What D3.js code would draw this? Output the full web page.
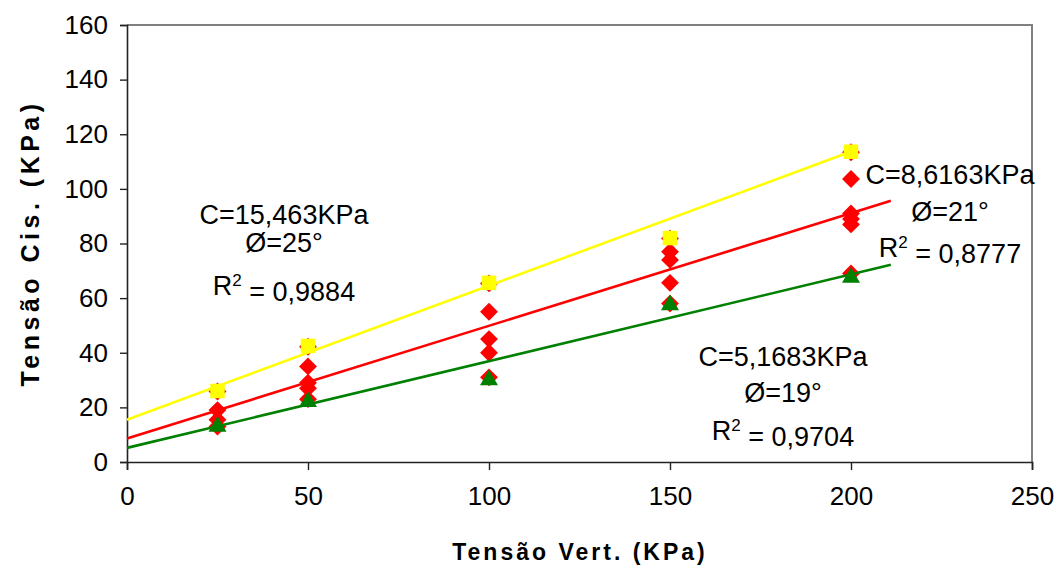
<!DOCTYPE html>
<html><head><meta charset="utf-8">
<script src="https://cdn.jsdelivr.net/npm/d3@7"></script>
<style>body{margin:0;background:#fff}svg{display:block}text{font-family:"Liberation Sans",Arial,sans-serif}</style>
</head><body>
<script>
const xTicks = [0, 50, 100, 150, 200, 250];
const yTicks = [0, 20, 40, 60, 80, 100, 120, 140, 160];
const sampleX = [25, 50, 100, 150, 200];
const yellowVals = [26, 42.5, 65.6, 82, 113.6];
const greenVals = [13, 22, 30, 57.5, 67.5];
const redX = [25, 25, 25, 25, 50, 50, 50, 50, 50, 100, 100, 100, 100, 100, 150, 150, 150, 150, 150, 200, 200, 200, 200, 200, 200];
const redY = [25.8, 19, 15.5, 13, 42.2, 35, 29, 27, 23, 65.4, 55, 45, 40, 31, 81.8, 77, 74, 65.6, 58, 113.4, 103.6, 91, 89, 87, 69];
const trendNames = ["yellow", "red", "green"];
const trendIntercepts = [15.463, 8.6163, 5.1683];
const trendSlopes = [0.491, 0.4126, 0.3176];
const trendEnds = [200, 211, 211];
const labelLines = [
  ["C=15,463KPa", "Ø=25°", "R2 = 0,9884"],
  ["C=8,6163KPa", "Ø=21°", "R2 = 0,8777"],
  ["C=5,1683KPa", "Ø=19°", "R2 = 0,9704"]
];

const W = 1064, H = 572;
const svg = d3.select("body").append("svg").attr("width", W).attr("height", H);
const x = d3.scaleLinear().domain([0, 250]).range([127, 1032]);
const y = d3.scaleLinear().domain([0, 160]).range([462, 25]);
const colors = {yellow: "#FFFF00", red: "#FF0000", green: "#008000"};

svg.append("path").attr("d", `M${x(0)},${y(160)}H${x(250)}V${y(0)}`)
  .attr("fill", "none").attr("stroke", "#808080").attr("stroke-width", 2);

const yAxis = svg.append("g").attr("transform", `translate(${x(0)},0)`)
  .call(d3.axisLeft(y).tickValues(yTicks).tickSize(7).tickPadding(12).tickFormat(d3.format("d")));
const xAxis = svg.append("g").attr("transform", `translate(0,${y(0)})`)
  .call(d3.axisBottom(x).tickValues(xTicks).tickSize(8).tickPadding(17).tickFormat(d3.format("d")));
[yAxis, xAxis].forEach(g => {
  g.select(".domain").attr("stroke", "#222").attr("stroke-width", 1.6);
  g.selectAll(".tick line").attr("stroke", "#222").attr("stroke-width", 1.4);
  g.selectAll("text").attr("font-size", 26).attr("fill", "#000").attr("font-family", "Liberation Sans, Arial, sans-serif");
});

const diamond = d3.symbol().type(d3.symbolSquare).size(160);
svg.append("g").selectAll("path").data(redX.map((d, i) => [d, redY[i]])).join("path")
  .attr("d", diamond).attr("fill", colors.red)
  .attr("transform", d => `translate(${x(d[0])},${y(d[1])}) rotate(45)`);
const sq = d3.symbol().type(d3.symbolSquare).size(210);
svg.append("g").selectAll("path").data(sampleX.map((d, i) => [d, yellowVals[i]])).join("path")
  .attr("d", sq).attr("fill", colors.yellow)
  .attr("transform", d => `translate(${x(d[0])},${y(d[1])})`);
const tri = d3.symbol().type(d3.symbolTriangle).size(140);
svg.append("g").selectAll("path").data(sampleX.map((d, i) => [d, greenVals[i]])).join("path")
  .attr("d", tri).attr("fill", colors.green)
  .attr("transform", d => `translate(${x(d[0])},${y(d[1])})`);

const line = d3.line().x(d => x(d[0])).y(d => y(d[1]));
trendNames.forEach((n, i) => {
  const pts = [[0, trendIntercepts[i]], [trendEnds[i], trendIntercepts[i] + trendSlopes[i] * trendEnds[i]]];
  svg.append("path").attr("d", line(pts)).attr("stroke", colors[n]).attr("stroke-width", 2.6).attr("fill", "none");
});

const labelPos = [
  {cx: 284, ys: [215, 243, 286]},
  {cx: 950, ys: [175, 212, 248]},
  {cx: 783, ys: [357, 393, 431]}
];
labelLines.forEach((lines, i) => {
  lines.forEach((t, j) => {
    const el = svg.append("text").attr("x", labelPos[i].cx).attr("y", labelPos[i].ys[j]).attr("dy", "0.35em")
      .attr("text-anchor", "middle").attr("font-size", 27).attr("fill", "#000");
    if (t.startsWith("R2")) {
      el.append("tspan").text("R");
      el.append("tspan").text("2").attr("font-size", 17).attr("dy", "-0.55em");
      el.append("tspan").text(t.slice(2)).attr("dy", "0.55em");
    } else el.text(t);
  });
});

svg.append("text").attr("x", 580).attr("y", 552).attr("dy", "0.35em").attr("text-anchor", "middle")
  .attr("font-size", 23).attr("font-weight", "bold").attr("letter-spacing", 3).text("Tensão Vert. (KPa)");
svg.append("text").attr("transform", "translate(30,243) rotate(-90)").attr("dy", "0.35em").attr("text-anchor", "middle")
  .attr("font-size", 25).attr("font-weight", "bold").attr("letter-spacing", 4.5).text("Tensão Cis. (KPa)");
</script>
</body></html>
